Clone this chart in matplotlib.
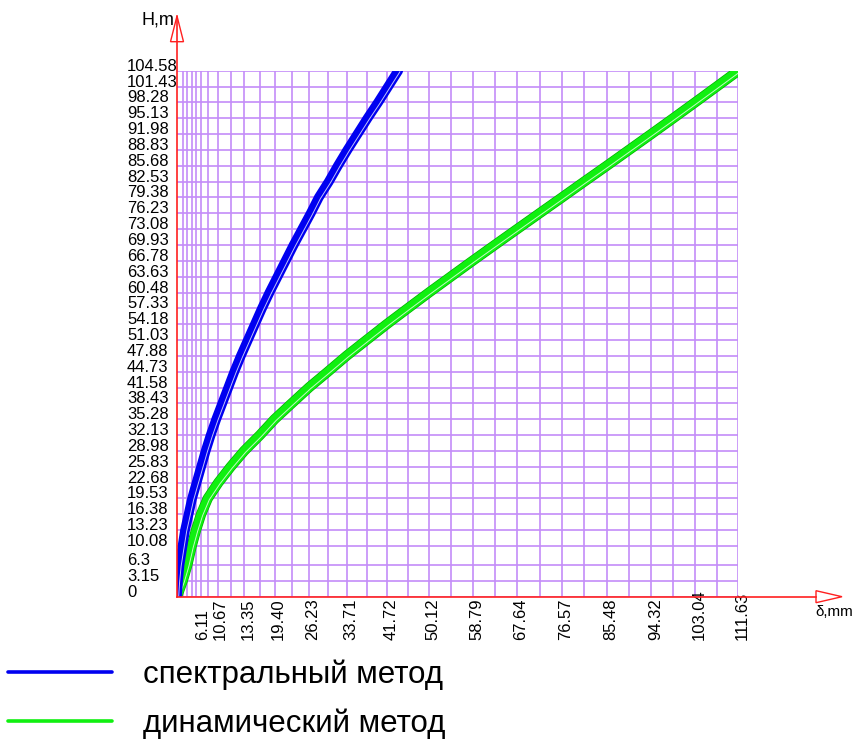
import matplotlib
matplotlib.use("Agg")
import matplotlib.pyplot as plt
from matplotlib.transforms import ScaledTranslation, offset_copy
from matplotlib.patches import Polygon

# ---------------- data ----------------
h_ticks = [0, 3.15, 6.3, 10.08, 13.23, 16.38, 19.53, 22.68, 25.83, 28.98, 32.13,
           35.28, 38.43, 41.58, 44.73, 47.88, 51.03, 54.18, 57.33, 60.48, 63.63,
           66.78, 69.93, 73.08, 76.23, 79.38, 82.53, 85.68, 88.83, 91.98, 95.13,
           98.28, 101.43, 104.58]
h_tick_labels = ["0", "3.15", "6.3", "10.08", "13.23", "16.38", "19.53", "22.68",
                 "25.83", "28.98", "32.13", "35.28", "38.43", "41.58", "44.73",
                 "47.88", "51.03", "54.18", "57.33", "60.48", "63.63", "66.78",
                 "69.93", "73.08", "76.23", "79.38", "82.53", "85.68", "88.83",
                 "91.98", "95.13", "98.28", "101.43", "104.58"]

delta_ticks = [6.11, 10.67, 13.35, 19.40, 26.23, 33.71, 41.72, 50.12, 58.79,
               67.64, 76.57, 85.48, 94.32, 103.04, 111.63]
delta_tick_labels = ["6.11", "10.67", "13.35", "19.40", "26.23", "33.71", "41.72",
                     "50.12", "58.79", "67.64", "76.57", "85.48", "94.32",
                     "103.04", "111.63"]
delta_grid_extra = [1.13, 2.05, 2.92, 3.78, 4.78, 8.22, 16.5, 22.8, 30.0, 37.7,
                    45.9, 54.45, 63.2, 72.1, 81.0, 89.9, 98.7, 107.35]

# heights at which both curves are given (same as the H levels)
curve_h = [0, 3.15, 6.3, 10.08, 13.23, 16.38, 19.53, 22.68, 25.83, 28.98, 32.13,
           35.28, 38.43, 41.58, 44.73, 47.88, 51.03, 54.18, 57.33, 60.48, 63.63,
           66.78, 69.93, 73.08, 76.23, 79.38, 82.53, 85.68, 88.83, 91.98, 95.13,
           98.28, 101.43, 104.58]
spectral_delta = [0.0, 0.2, 0.5, 1.1, 1.6, 2.3, 3.0, 3.9, 4.8, 5.7, 6.7, 7.8,
                  9.0, 10.2, 11.4, 12.7, 14.1, 15.5, 16.9, 18.4, 20.0, 21.6, 23.2,
                  24.9, 26.6, 28.2, 30.2, 32.0, 33.9, 35.9, 37.9, 40.0, 42.0, 44.0]
dynamic_delta = [0.0, 1.13, 2.05, 2.92, 3.78, 4.78, 6.11, 8.22, 10.67, 13.35,
                 16.5, 19.40, 22.8, 26.23, 30.0, 33.71, 37.7, 41.72, 45.9, 50.12,
                 54.45, 58.79, 63.2, 67.64, 72.1, 76.57, 81.0, 85.48, 89.9, 94.32,
                 98.7, 103.04, 107.35, 111.63]

series_labels = ["спектральный метод", "динамический метод"]

# ---------------- fonts ----------------
plt.rcParams["font.family"] = ["Liberation Sans", "DejaVu Sans"]
tick_fs = 12
leg_fs = 22.5

# ---------------- figure ----------------
W, H = 857, 743
fig = plt.figure(figsize=(W / 100, H / 100), dpi=100)
left_px, right_px, top_px, bottom_px = 177, 738.3, 70.7, 596.7
ax = fig.add_axes([left_px / W, 1 - bottom_px / H,
                   (right_px - left_px) / W, (bottom_px - top_px) / H])
ax.set_xlim(0, delta_ticks[-1])
ax.set_ylim(0, h_ticks[-1])
for s in ax.spines.values():
    s.set_visible(False)

grid_color = "#c48cf8"
ax.set_xticks(delta_ticks, labels=delta_tick_labels)
ax.set_xticks(delta_grid_extra, minor=True)
ax.set_yticks(h_ticks, labels=h_tick_labels)
ax.grid(True, which="both", color=grid_color, lw=1.2)
ax.set_axisbelow(True)

ax.tick_params(axis="x", which="both", length=0, pad=31, labelsize=tick_fs)
ax.tick_params(axis="y", which="both", length=0, pad=36, labelsize=tick_fs)

x_offsets = {"6.11": -5, "10.67": -10}
for lbl in ax.get_xticklabels():
    lbl.set_rotation(90)
    lbl.set_va("bottom")
    lbl.set_ha("center")
    dx = x_offsets.get(lbl.get_text(), 4)
    lbl.set_transform(lbl.get_transform() + ScaledTranslation(dx / 100, 0, fig.dpi_scale_trans))
for lbl in ax.get_yticklabels():
    lbl.set_ha("left")
    lbl.set_va("baseline")

# ---------------- curves ----------------
blue = "#0000f0"
green = "#10f010"
hl_tr = offset_copy(ax.transData, fig=fig, x=1.6, y=-1.2, units="dots")

ax.plot(dynamic_delta, curve_h, color="#00b000", lw=7.4,
        solid_capstyle="round", solid_joinstyle="round", zorder=3)
l2, = ax.plot(dynamic_delta, curve_h, color=green, lw=6.4,
              solid_capstyle="round", solid_joinstyle="round",
              label=series_labels[1], zorder=3.5)
ax.plot(dynamic_delta, curve_h, color="white", lw=0.7, alpha=0.75,
        transform=hl_tr, zorder=3.6)

l1, = ax.plot(spectral_delta, curve_h, color=blue, lw=7.0,
              solid_capstyle="round", solid_joinstyle="round",
              label=series_labels[0], zorder=4)
ax.plot(spectral_delta, curve_h, color="white", lw=0.7, alpha=0.75,
        transform=hl_tr, zorder=4.5)

# ---------------- red axes with arrows ----------------
red = "#ff2020"
axw = right_px - left_px
axh = bottom_px - top_px
ax.plot([0, 0], [0, (bottom_px - 16) / axh], transform=ax.transAxes, color=red,
        lw=1.2, clip_on=False, zorder=6)
ax.plot([0, (816 - left_px) / axw], [0, 0], transform=ax.transAxes, color=red,
        lw=1.2, clip_on=False, zorder=6)
hw = 6.5 / axw
ytip = (bottom_px - 16) / axh
ybase = (bottom_px - 41.7) / axh
ax.add_patch(Polygon([[0, ytip], [-hw, ybase], [hw, ybase]], closed=True,
                     transform=ax.transAxes, clip_on=False, fill=False,
                     edgecolor=red, lw=1.0, zorder=6))
hh = 6 / axh
xtip = (842 - left_px) / axw
xbase = (816 - left_px) / axw
ax.add_patch(Polygon([[xtip, 0], [xbase, hh], [xbase, -hh]], closed=True,
                     transform=ax.transAxes, clip_on=False, fill=False,
                     edgecolor=red, lw=1.0, zorder=6))

fig.text(174 / W, 1 - 20 / H, "H,m", ha="right", va="center", fontsize=13)
fig.text(815 / W, 1 - 612 / H, "δ,mm", ha="left", va="center", fontsize=11)

# ---------------- legend ----------------
leg = fig.legend(handles=[l1, l2], loc="upper left",
                 bbox_to_anchor=(8 / W, 1 - 659 / H), frameon=False,
                 fontsize=leg_fs, handlelength=3.33, handletextpad=1.0,
                 labelspacing=0.6, borderpad=0, borderaxespad=0)
for ln in leg.get_lines():
    ln.set_linewidth(2.6)

fig.savefig("out.png", dpi=100)
